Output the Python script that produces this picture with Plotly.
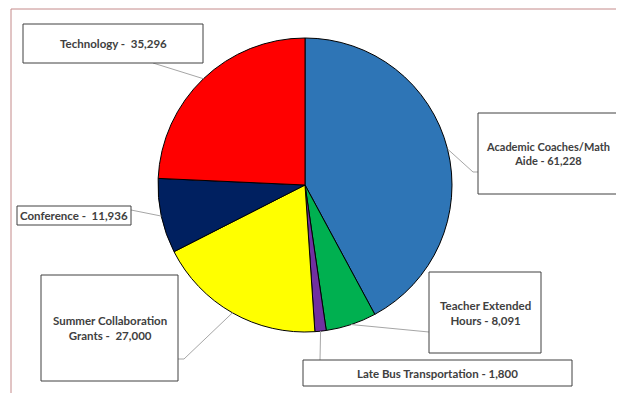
import math
import plotly.graph_objects as go

categories = ["Academic Coaches/Math Aide", "Teacher Extended Hours", "Late Bus Transportation",
              "Summer Collaboration Grants", "Conference", "Technology"]
values = [61228, 8091, 1800, 27000, 11936, 35296]
label_texts = ["Academic Coaches/Math<br>Aide - 61,228", "Teacher Extended<br>Hours - 8,091",
               "Late Bus Transportation - 1,800", "Summer Collaboration<br>Grants -  27,000",
               "Conference -  11,936", "Technology -  35,296"]
colors = ["#2e75b6", "#00b050", "#7030a0", "#ffff00", "#002060", "#ff0000"]

OFF = 8  # page body margin offset
W, H = 624 - 2 * OFF, 401 - 2 * OFF
cx, cy, r = 305, 185, 147  # pie centre / radius in window pixels

def px(x):
    return (x - OFF) / W

def py(y):
    return 1 - (y - OFF) / H

# label boxes (window pixels): x0, y0, x1, y1 and leader elbow/end points
boxes = [
    (478, 113, 640, 194),
    (429, 272, 541, 353),
    (303, 360, 572, 386),
    (41, 275, 178, 381),
    (17, 206, 131, 225),
    (23, 24, 203, 63),
]
text_x = [548, 485, 437, 110, 74, 113]
text_size = [11, 11.5, 11.5, 11.5, 11.5, 11.5]
leader_ends = [
    [(473, 172), (478, 172)],
    [(429, 332)],
    [(320, 360)],
    [(184, 359), (178, 359)],
    [(131, 210)],
    [(153, 63)],
]

fig = go.Figure(go.Pie(
    labels=categories, values=values, sort=False, direction="clockwise", rotation=0,
    marker=dict(colors=colors, line=dict(color="#000000", width=1)),
    textinfo="none", hoverinfo="label+value", showlegend=False,
    domain=dict(x=[px(cx - r), px(cx + r)], y=[py(cy + r), py(cy - r)]),
))

shapes = []
# outer frame
shapes.append(dict(type="rect", xref="paper", yref="paper", x0=px(11), y0=py(440), x1=px(680), y1=py(9),
                   line=dict(color="#c48a8a", width=1), fillcolor="rgba(0,0,0,0)", layer="below"))

total = sum(values)
cum = 0
annotations = []
for i, v in enumerate(values):
    mid = (cum + v / 2) / total * 2 * math.pi
    cum += v
    sx = cx + r * math.sin(mid)
    sy = cy - r * math.cos(mid)
    pts = [(sx, sy)] + leader_ends[i]
    path = "M " + " L ".join(f"{px(a):.5f},{py(b):.5f}" for a, b in pts)
    shapes.append(dict(type="path", xref="paper", yref="paper", path=path,
                       line=dict(color="#a6a6a6", width=1), layer="above"))
    x0, y0, x1, y1 = boxes[i]
    shapes.append(dict(type="rect", xref="paper", yref="paper", x0=px(x0), y0=py(y1), x1=px(x1), y1=py(y0),
                       line=dict(color="#404040", width=1), fillcolor="white", layer="above"))
    annotations.append(dict(x=px(text_x[i]), y=py((y0 + y1) / 2), xref="paper", yref="paper",
                            text=label_texts[i], showarrow=False, align="center",
                            xanchor="center", yanchor="middle",
                            font=dict(family="Lato, Open Sans, sans-serif", size=text_size[i],
                                      color="#404040", weight="bold")))

fig.update_layout(width=W, height=H, margin=dict(l=0, r=0, t=0, b=0),
                  paper_bgcolor="white", plot_bgcolor="white",
                  shapes=shapes, annotations=annotations)
fig.write_html("out.html")
